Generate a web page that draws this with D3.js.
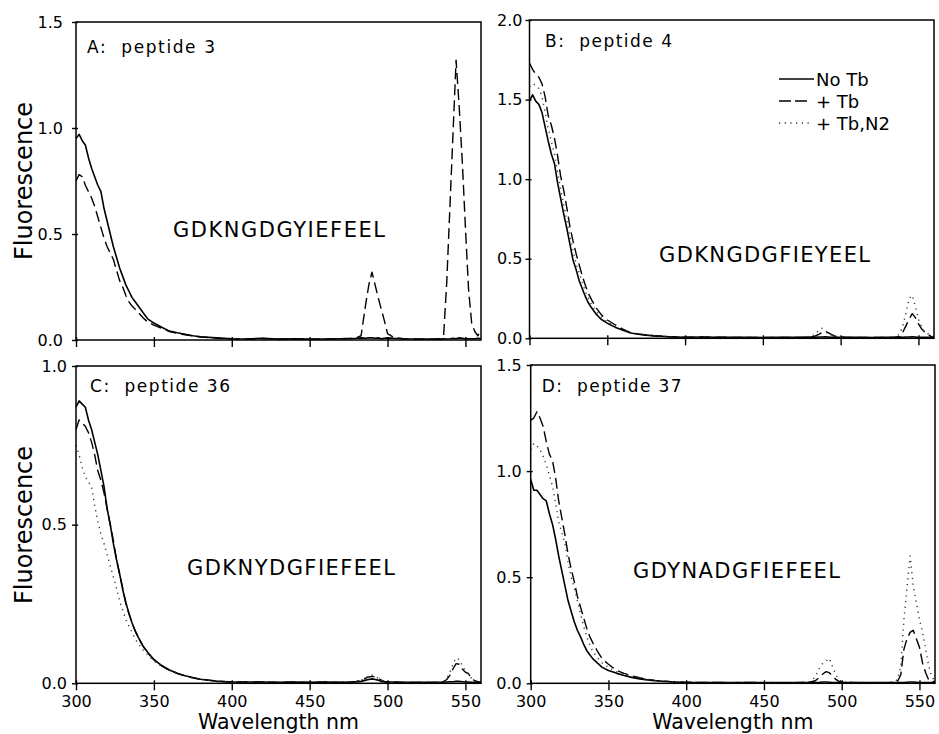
<!DOCTYPE html>
<html>
<head>
<meta charset="utf-8">
<script src="https://cdn.jsdelivr.net/npm/d3@7"></script>
<style>
    html, body { margin: 0; padding: 0; background: #fff; }
    svg { display: block; font-family: "DejaVu Sans", Verdana, sans-serif; }
</style>
</head>
<body>
<div id="chart"></div>
<script>
(function drawSpectra (d3, undefined) {
    "use strict";

    // wavelength grid (nm), shared by every trace
    var wl = [300,302,304,306,308,310,312,314,316,318,320,322,324,326,328,330,332,334,336,338,340,
        343,346,350,355,360,365,370,375,380,
        390,400,410,420,430,440,450,460,470,
        476,480,483,486,488,490,492,494,496,498,500,
        504,510,520,530,
        534,536,538,540,542,544,546,548,550,552,554,556,558,560];

    // A: peptide 3
    var noTbA = [0.95,0.97,0.94,0.92,0.86,0.81,0.77,0.73,0.70,0.62,0.56,0.50,0.44,0.39,0.34,0.30,0.26,0.23,0.20,0.18,0.16,
        0.13,0.10,0.08,0.06,0.042,0.034,0.027,0.02,0.015,
        0.01,0.006,0.005,0.008,0.004,0.006,0.004,0.005,0.006,
        0.006,0.008,0.01,0.008,0.01,0.01,0.008,0.01,0.006,0.008,0.01,
        0.008,0.006,0.005,0.004,
        0.004,0.006,0.005,0.006,0.008,0.006,0.01,0.008,0.006,0.006,0.006,0.006,0.008,0.006];
    var tbA = [0.75,0.78,0.77,0.73,0.70,0.67,0.63,0.58,0.53,0.48,0.44,0.41,0.38,0.33,0.28,0.25,0.21,0.18,0.16,0.145,0.13,
        0.105,0.085,0.07,0.055,0.04,0.032,0.025,0.019,0.014,
        0.009,0.004,0.005,0.007,0.004,0.005,0.004,0.004,0.006,
        0.008,0.01,0.02,0.17,0.26,0.32,0.26,0.2,0.145,0.09,0.03,
        0.012,0.006,0.004,0.004,
        0.006,0.02,0.27,0.62,0.97,1.32,1.1,0.84,0.53,0.24,0.08,0.04,0.02,0.05];

    // B: peptide 4
    var noTbB = [1.49,1.53,1.49,1.47,1.42,1.33,1.24,1.16,1.10,0.98,0.88,0.78,0.69,0.59,0.49,0.43,0.36,0.31,0.26,0.22,0.19,
        0.15,0.12,0.095,0.07,0.05,0.033,0.025,0.02,0.015,
        0.01,0.007,0.008,0.007,0.006,0.006,0.005,0.006,0.006,
        0.006,0.008,0.006,0.008,0.008,0.01,0.008,0.006,0.008,0.006,0.006,
        0.006,0.006,0.005,0.006,
        0.006,0.006,0.008,0.006,0.008,0.008,0.01,0.008,0.006,0.006,0.006,0.006,0.006,0.006];
    var tbB = [1.73,1.69,1.66,1.64,1.60,1.52,1.40,1.34,1.26,1.15,1.02,0.93,0.82,0.70,0.61,0.53,0.46,0.39,0.33,0.28,0.24,
        0.19,0.15,0.115,0.085,0.058,0.035,0.027,0.021,0.016,
        0.01,0.007,0.008,0.007,0.006,0.006,0.005,0.006,0.006,
        0.006,0.008,0.012,0.025,0.035,0.04,0.035,0.025,0.015,0.01,0.008,
        0.006,0.006,0.006,0.006,
        0.006,0.008,0.01,0.04,0.08,0.12,0.155,0.13,0.09,0.06,0.04,0.025,0.012,0.006];
    var tbN2B = [1.58,1.60,1.59,1.57,1.52,1.42,1.32,1.24,1.16,1.05,0.94,0.84,0.74,0.64,0.55,0.47,0.41,0.35,0.29,0.25,0.21,
        0.17,0.135,0.1,0.075,0.053,0.034,0.026,0.02,0.015,
        0.01,0.007,0.008,0.007,0.006,0.006,0.005,0.006,0.006,
        0.008,0.012,0.02,0.05,0.063,0.05,0.035,0.02,0.012,0.008,0.006,
        0.006,0.006,0.006,0.006,
        0.006,0.01,0.03,0.08,0.16,0.25,0.27,0.2,0.12,0.07,0.04,0.03,0.02,0.01];

    // C: peptide 36
    var noTbC = [0.87,0.89,0.88,0.87,0.83,0.80,0.76,0.72,0.67,0.62,0.55,0.50,0.44,0.39,0.345,0.295,0.255,0.22,0.19,0.165,0.145,
        0.118,0.098,0.075,0.056,0.042,0.032,0.024,0.018,0.013,
        0.007,0.004,0.004,0.004,0.003,0.004,0.003,0.004,0.003,
        0.004,0.004,0.006,0.01,0.012,0.014,0.012,0.01,0.006,0.004,0.004,
        0.004,0.003,0.003,0.003,
        0.003,0.004,0.004,0.005,0.005,0.006,0.006,0.005,0.004,0.004,0.003,0.003,0.003,0.003];
    var tbC = [0.80,0.83,0.82,0.81,0.79,0.76,0.72,0.67,0.64,0.60,0.55,0.50,0.45,0.39,0.345,0.30,0.25,0.22,0.19,0.165,0.145,
        0.117,0.096,0.074,0.055,0.041,0.031,0.023,0.017,0.012,
        0.007,0.004,0.004,0.004,0.003,0.004,0.003,0.004,0.003,
        0.004,0.006,0.01,0.016,0.02,0.022,0.02,0.016,0.01,0.006,0.004,
        0.004,0.003,0.003,0.003,
        0.003,0.005,0.012,0.025,0.045,0.062,0.06,0.045,0.035,0.03,0.015,0.008,0.005,0.004];
    var tbN2C = [0.75,0.72,0.68,0.65,0.635,0.62,0.56,0.51,0.47,0.44,0.405,0.37,0.335,0.30,0.26,0.23,0.20,0.18,0.16,0.14,0.125,
        0.105,0.09,0.07,0.054,0.041,0.031,0.023,0.017,0.012,
        0.006,0.004,0.004,0.004,0.003,0.004,0.003,0.004,0.003,
        0.004,0.006,0.01,0.018,0.024,0.026,0.022,0.016,0.01,0.006,0.004,
        0.004,0.003,0.003,0.003,
        0.003,0.006,0.015,0.035,0.06,0.08,0.075,0.055,0.04,0.03,0.015,0.008,0.005,0.004];

    // D: peptide 37
    var noTbD = [0.96,0.91,0.91,0.89,0.87,0.86,0.80,0.75,0.68,0.60,0.53,0.46,0.39,0.34,0.29,0.25,0.22,0.185,0.155,0.135,0.115,
        0.095,0.075,0.06,0.048,0.037,0.028,0.021,0.016,0.012,
        0.007,0.004,0.004,0.003,0.003,0.004,0.003,0.003,0.003,
        0.003,0.004,0.004,0.005,0.006,0.006,0.005,0.004,0.004,0.003,0.003,
        0.003,0.003,0.003,0.003,
        0.003,0.003,0.004,0.004,0.005,0.006,0.006,0.005,0.004,0.004,0.003,0.003,0.003,0.003];
    var tbD = [1.24,1.25,1.28,1.25,1.21,1.14,1.08,1.05,0.97,0.86,0.78,0.70,0.61,0.54,0.48,0.41,0.36,0.31,0.26,0.22,0.19,
        0.15,0.115,0.09,0.062,0.047,0.035,0.026,0.019,0.014,
        0.008,0.005,0.004,0.004,0.003,0.004,0.003,0.003,0.003,
        0.004,0.006,0.012,0.03,0.045,0.055,0.05,0.035,0.02,0.01,0.005,
        0.004,0.003,0.003,0.003,
        0.004,0.01,0.04,0.16,0.21,0.24,0.25,0.21,0.17,0.095,0.05,0.015,0.006,0.01];
    var tbN2D = [1.10,1.13,1.12,1.10,1.07,1.03,0.98,0.93,0.85,0.76,0.71,0.66,0.57,0.50,0.45,0.39,0.33,0.27,0.22,0.18,0.15,
        0.12,0.095,0.075,0.055,0.042,0.032,0.024,0.018,0.013,
        0.008,0.005,0.004,0.004,0.003,0.004,0.003,0.003,0.003,
        0.005,0.008,0.03,0.078,0.095,0.105,0.118,0.08,0.045,0.02,0.008,
        0.005,0.004,0.004,0.004,
        0.006,0.02,0.08,0.3,0.45,0.6,0.46,0.38,0.3,0.24,0.16,0.08,0.03,0.01];

    var panelNames = ["A:  peptide 3", "B:  peptide 4", "C:  peptide 36", "D:  peptide 37"];
    var sequences = ["GDKNGDGYIEFEEL", "GDKNGDGFIEYEEL", "GDKNYDGFIEFEEL", "GDYNADGFIEFEEL"];
    var seriesNames = ["No Tb", "+ Tb", "+ Tb,N2"];
    var xTicks = [300, 350, 400, 450, 500, 550];
    var yTicksA = [0, 0.5, 1.0, 1.5],
        yTicksB = [0, 0.5, 1.0, 1.5, 2.0],
        yTicksC = [0, 0.5, 1.0],
        yTicksD = [0, 0.5, 1.0, 1.5];
    var xTitle = "Wavelength nm",
        yTitle = "Fluorescence";

    var width = 939, height = 734;
    var styles = [
        {dash: null, w: 1.6, color: "#000"},
        {dash: "11,5", w: 1.4, color: "#000"},
        {dash: "1.2,4.5", w: 1.4, color: "#333"}
    ];

    // layout of the four frames
    var panels = [
        {series: [noTbA, tbA], yTicks: yTicksA, left: 76, right: 481, top: 22, bottom: 340,
            tickPad: 9, lab: [87, 53, 128], seq: [173, 237, 212], xLabels: false, yTitle: 181},
        {series: [noTbB, tbB, tbN2B], yTicks: yTicksB, left: 529.5, right: 934, top: 20, bottom: 338.3,
            tickPad: 3, lab: [545, 47, 127], seq: [659, 262, 211], xLabels: false, legend: true},
        {series: [noTbC, tbC, tbN2C], yTicks: yTicksC, left: 76, right: 481, top: 366, bottom: 683.3,
            tickPad: 5, lab: [90, 392, 140], seq: [187, 575, 208], xLabels: true, yTitle: 525},
        {series: [noTbD, tbD, tbN2D], yTicks: yTicksD, left: 530.7, right: 935, top: 365, bottom: 683.3,
            tickPad: 5, lab: [541.7, 392, 140], seq: [633, 578, 207], xLabels: true}
    ];

    var svg = d3.select("#chart").append("svg")
        .attr("width", width)
        .attr("height", height);

    panels.forEach(function drawPanel (p, pi) {
        var yMax = p.yTicks[p.yTicks.length - 1];
        var x = d3.scaleLinear().domain([300, 560]).range([p.left, p.right]);
        var y = d3.scaleLinear().domain([0, yMax]).range([p.bottom, p.top]);
        var g = svg.append("g").attr("class", "panel");

        var line = d3.line()
            .x(function (d, i) { return x(wl[i]); })
            .y(function (d) { return y(d); });

        p.series.forEach(function (vals, si) {
            if (vals.length !== wl.length) console.error("length mismatch", pi, si, vals.length);
            var st = styles[si];
            g.append("path")
                .attr("d", line(vals))
                .attr("fill", "none")
                .attr("stroke", st.color)
                .attr("stroke-width", st.w)
                .attr("stroke-linejoin", "round")
                .attr("stroke-dasharray", st.dash);
        });

        g.append("rect")
            .attr("x", p.left).attr("y", p.top)
            .attr("width", p.right - p.left).attr("height", p.bottom - p.top)
            .attr("fill", "none").attr("stroke", "#000").attr("stroke-width", 1.5);

        var xAxis = d3.axisBottom(x).tickValues(xTicks).tickSize(7).tickPadding(5.5)
            .tickFormat(p.xLabels ? d3.format("d") : "");
        var gx = g.append("g").attr("transform", "translate(0," + p.bottom + ")").call(xAxis);
        gx.select(".domain").remove();
        gx.selectAll(".tick line").attr("y1", -3).attr("stroke-width", 1.4);

        var yAxis = d3.axisLeft(y).tickValues(p.yTicks).tickSize(4).tickPadding(p.tickPad)
            .tickFormat(d3.format(".1f"));
        var gy = g.append("g").attr("transform", "translate(" + p.left + ",0)").call(yAxis);
        gy.select(".domain").remove();
        gy.selectAll(".tick line").attr("x1", 2).attr("stroke-width", 1.4);

        svg.selectAll(".tick text")
            .attr("font-family", "DejaVu Sans, sans-serif")
            .attr("font-size", 16)
            .attr("fill", "#000");

        g.append("text")
            .attr("x", p.lab[0]).attr("y", p.lab[1])
            .attr("textLength", p.lab[2]).attr("lengthAdjust", "spacing")
            .style("white-space", "pre")
            .attr("font-size", 17)
            .text(panelNames[pi]);

        g.append("text")
            .attr("x", p.seq[0]).attr("y", p.seq[1])
            .attr("textLength", p.seq[2]).attr("lengthAdjust", "spacing")
            .attr("font-size", 21)
            .text(sequences[pi]);

        if (p.xLabels) {
            g.append("text")
                .attr("x", (p.left + p.right) / 2).attr("y", 729)
                .attr("text-anchor", "middle")
                .attr("font-size", 20.5)
                .text(xTitle);
        }
        if (p.yTitle) {
            g.append("text")
                .attr("transform", "translate(32," + p.yTitle + ")rotate(-90)")
                .attr("text-anchor", "middle")
                .attr("font-size", 24)
                .text(yTitle);
        }

        if (p.legend) {
            var rows = [79, 101, 123];
            seriesNames.forEach(function (name, si) {
                var st = styles[si];
                g.append("line")
                    .attr("x1", 779).attr("x2", si === 0 ? 814 : 811)
                    .attr("y1", rows[si]).attr("y2", rows[si])
                    .attr("stroke", st.color)
                    .attr("stroke-width", st.w)
                    .attr("stroke-dasharray", si === 1 ? "12,4" : st.dash);
                g.append("text")
                    .attr("x", 816).attr("y", rows[si] + 7)
                    .attr("font-size", 18)
                    .style("white-space", "pre")
                    .text(name);
            });
        }
    });
})(window.d3);
</script>
</body>
</html>
